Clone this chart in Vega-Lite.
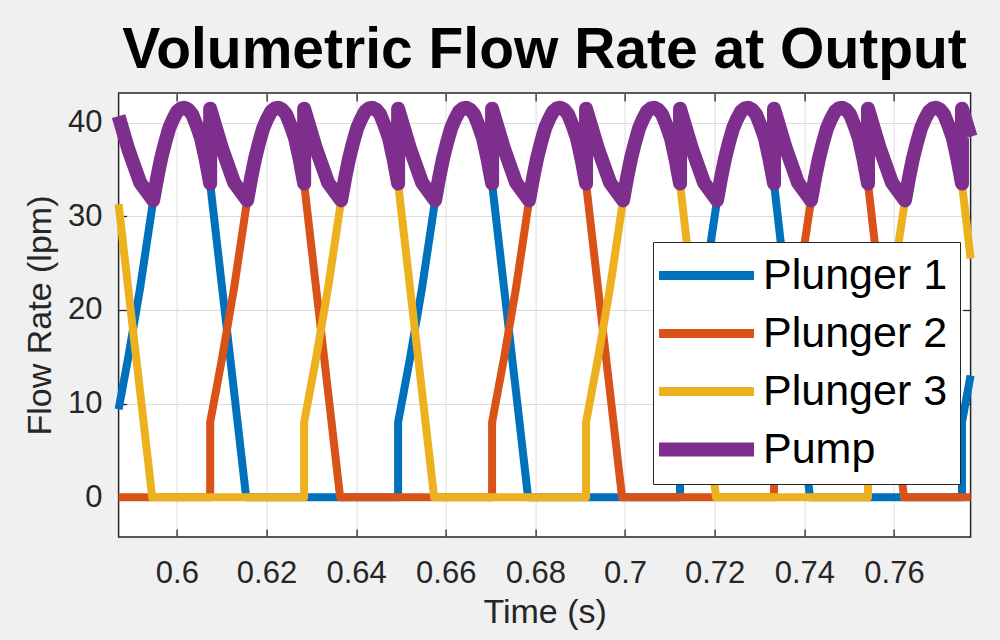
{
  "$schema": "https://vega.github.io/schema/vega-lite/v6.json",
  "width": 852,
  "height": 444,
  "autosize": {"type": "none"},
  "padding": {"left": 118.6, "top": 93, "right": 29.4, "bottom": 103},
  "background": "#f0f0f0",
  "config": {
    "view": {"fill": "white", "stroke": "#262626", "strokeWidth": 1.5},
    "font": "Liberation Sans",
    "legend": {
      "orient": "none",
      "legendX": 534.4,
      "legendY": 149,
      "title": null,
      "fillColor": "white",
      "strokeColor": "#262626",
      "padding": 12,
      "cornerRadius": 0,
      "symbolType": "M-2.75,0H6.75",
      "symbolSize": 400,
      "symbolStrokeWidth": 14,
      "labelFontSize": 43,
      "labelFont": "Liberation Sans",
      "labelColor": "#000000",
      "labelLimit": 500,
      "labelOffset": 55,
      "rowPadding": 14
    }
  },
  "title": {
    "text": "Volumetric Flow Rate at Output",
    "fontSize": 57,
    "fontWeight": "bold",
    "font": "Liberation Sans",
    "color": "#000000",
    "anchor": "middle",
    "frame": "group",
    "baseline": "alphabetic",
    "offset": -33
  },
  "datasets": {
    "plungers": [
      {"t": 0.587, "q": 9.4, "s": "Plunger 1"},
      {"t": 0.589139, "q": 14.9, "s": "Plunger 1"},
      {"t": 0.591816, "q": 22.4, "s": "Plunger 1"},
      {"t": 0.594715, "q": 31.7, "s": "Plunger 1"},
      {"t": 0.5965, "q": 36.2, "s": "Plunger 1"},
      {"t": 0.598284, "q": 39.4, "s": "Plunger 1"},
      {"t": 0.600069, "q": 41.2, "s": "Plunger 1"},
      {"t": 0.60163, "q": 41.6, "s": "Plunger 1"},
      {"t": 0.603415, "q": 40.9, "s": "Plunger 1"},
      {"t": 0.605423, "q": 38.3, "s": "Plunger 1"},
      {"t": 0.60743, "q": 33.5, "s": "Plunger 1"},
      {"t": 0.610107, "q": 22.3, "s": "Plunger 1"},
      {"t": 0.612784, "q": 11.2, "s": "Plunger 1"},
      {"t": 0.61546, "q": 0, "s": "Plunger 1"},
      {"t": 0.649366, "q": 0, "s": "Plunger 1"},
      {"t": 0.649366, "q": 8, "s": "Plunger 1"},
      {"t": 0.652043, "q": 14.9, "s": "Plunger 1"},
      {"t": 0.65472, "q": 22.4, "s": "Plunger 1"},
      {"t": 0.657619, "q": 31.7, "s": "Plunger 1"},
      {"t": 0.659404, "q": 36.2, "s": "Plunger 1"},
      {"t": 0.661188, "q": 39.4, "s": "Plunger 1"},
      {"t": 0.662973, "q": 41.2, "s": "Plunger 1"},
      {"t": 0.664534, "q": 41.6, "s": "Plunger 1"},
      {"t": 0.666319, "q": 40.9, "s": "Plunger 1"},
      {"t": 0.668327, "q": 38.3, "s": "Plunger 1"},
      {"t": 0.670334, "q": 33.5, "s": "Plunger 1"},
      {"t": 0.673011, "q": 22.3, "s": "Plunger 1"},
      {"t": 0.675688, "q": 11.2, "s": "Plunger 1"},
      {"t": 0.678364, "q": 0, "s": "Plunger 1"},
      {"t": 0.71227, "q": 0, "s": "Plunger 1"},
      {"t": 0.71227, "q": 8, "s": "Plunger 1"},
      {"t": 0.714947, "q": 14.9, "s": "Plunger 1"},
      {"t": 0.717624, "q": 22.4, "s": "Plunger 1"},
      {"t": 0.720523, "q": 31.7, "s": "Plunger 1"},
      {"t": 0.722308, "q": 36.2, "s": "Plunger 1"},
      {"t": 0.724092, "q": 39.4, "s": "Plunger 1"},
      {"t": 0.725877, "q": 41.2, "s": "Plunger 1"},
      {"t": 0.727438, "q": 41.6, "s": "Plunger 1"},
      {"t": 0.729223, "q": 40.9, "s": "Plunger 1"},
      {"t": 0.731231, "q": 38.3, "s": "Plunger 1"},
      {"t": 0.733238, "q": 33.5, "s": "Plunger 1"},
      {"t": 0.735915, "q": 22.3, "s": "Plunger 1"},
      {"t": 0.738592, "q": 11.2, "s": "Plunger 1"},
      {"t": 0.741268, "q": 0, "s": "Plunger 1"},
      {"t": 0.775174, "q": 0, "s": "Plunger 1"},
      {"t": 0.775174, "q": 8, "s": "Plunger 1"},
      {"t": 0.7771, "q": 13.0, "s": "Plunger 1"},

      {"t": 0.587, "q": 0, "s": "Plunger 2"},
      {"t": 0.60743, "q": 0, "s": "Plunger 2"},
      {"t": 0.60743, "q": 8, "s": "Plunger 2"},
      {"t": 0.610107, "q": 14.9, "s": "Plunger 2"},
      {"t": 0.612784, "q": 22.4, "s": "Plunger 2"},
      {"t": 0.615683, "q": 31.7, "s": "Plunger 2"},
      {"t": 0.617468, "q": 36.2, "s": "Plunger 2"},
      {"t": 0.619252, "q": 39.4, "s": "Plunger 2"},
      {"t": 0.621037, "q": 41.2, "s": "Plunger 2"},
      {"t": 0.622598, "q": 41.6, "s": "Plunger 2"},
      {"t": 0.624383, "q": 40.9, "s": "Plunger 2"},
      {"t": 0.626391, "q": 38.3, "s": "Plunger 2"},
      {"t": 0.628398, "q": 33.5, "s": "Plunger 2"},
      {"t": 0.631075, "q": 22.3, "s": "Plunger 2"},
      {"t": 0.633752, "q": 11.2, "s": "Plunger 2"},
      {"t": 0.636428, "q": 0, "s": "Plunger 2"},
      {"t": 0.670334, "q": 0, "s": "Plunger 2"},
      {"t": 0.670334, "q": 8, "s": "Plunger 2"},
      {"t": 0.673011, "q": 14.9, "s": "Plunger 2"},
      {"t": 0.675688, "q": 22.4, "s": "Plunger 2"},
      {"t": 0.678587, "q": 31.7, "s": "Plunger 2"},
      {"t": 0.680372, "q": 36.2, "s": "Plunger 2"},
      {"t": 0.682156, "q": 39.4, "s": "Plunger 2"},
      {"t": 0.683941, "q": 41.2, "s": "Plunger 2"},
      {"t": 0.685502, "q": 41.6, "s": "Plunger 2"},
      {"t": 0.687287, "q": 40.9, "s": "Plunger 2"},
      {"t": 0.689295, "q": 38.3, "s": "Plunger 2"},
      {"t": 0.691302, "q": 33.5, "s": "Plunger 2"},
      {"t": 0.693979, "q": 22.3, "s": "Plunger 2"},
      {"t": 0.696656, "q": 11.2, "s": "Plunger 2"},
      {"t": 0.699332, "q": 0, "s": "Plunger 2"},
      {"t": 0.733238, "q": 0, "s": "Plunger 2"},
      {"t": 0.733238, "q": 8, "s": "Plunger 2"},
      {"t": 0.735915, "q": 14.9, "s": "Plunger 2"},
      {"t": 0.738592, "q": 22.4, "s": "Plunger 2"},
      {"t": 0.741491, "q": 31.7, "s": "Plunger 2"},
      {"t": 0.743276, "q": 36.2, "s": "Plunger 2"},
      {"t": 0.74506, "q": 39.4, "s": "Plunger 2"},
      {"t": 0.746845, "q": 41.2, "s": "Plunger 2"},
      {"t": 0.748406, "q": 41.6, "s": "Plunger 2"},
      {"t": 0.750191, "q": 40.9, "s": "Plunger 2"},
      {"t": 0.752199, "q": 38.3, "s": "Plunger 2"},
      {"t": 0.754206, "q": 33.5, "s": "Plunger 2"},
      {"t": 0.756883, "q": 22.3, "s": "Plunger 2"},
      {"t": 0.75956, "q": 11.2, "s": "Plunger 2"},
      {"t": 0.762236, "q": 0, "s": "Plunger 2"},
      {"t": 0.7771, "q": 0, "s": "Plunger 2"},

      {"t": 0.587, "q": 31.3, "s": "Plunger 3"},
      {"t": 0.589139, "q": 22.3, "s": "Plunger 3"},
      {"t": 0.591816, "q": 11.2, "s": "Plunger 3"},
      {"t": 0.594492, "q": 0, "s": "Plunger 3"},
      {"t": 0.628398, "q": 0, "s": "Plunger 3"},
      {"t": 0.628398, "q": 8, "s": "Plunger 3"},
      {"t": 0.631075, "q": 14.9, "s": "Plunger 3"},
      {"t": 0.633752, "q": 22.4, "s": "Plunger 3"},
      {"t": 0.636651, "q": 31.7, "s": "Plunger 3"},
      {"t": 0.638436, "q": 36.2, "s": "Plunger 3"},
      {"t": 0.64022, "q": 39.4, "s": "Plunger 3"},
      {"t": 0.642005, "q": 41.2, "s": "Plunger 3"},
      {"t": 0.643566, "q": 41.6, "s": "Plunger 3"},
      {"t": 0.645351, "q": 40.9, "s": "Plunger 3"},
      {"t": 0.647359, "q": 38.3, "s": "Plunger 3"},
      {"t": 0.649366, "q": 33.5, "s": "Plunger 3"},
      {"t": 0.652043, "q": 22.3, "s": "Plunger 3"},
      {"t": 0.65472, "q": 11.2, "s": "Plunger 3"},
      {"t": 0.657396, "q": 0, "s": "Plunger 3"},
      {"t": 0.691302, "q": 0, "s": "Plunger 3"},
      {"t": 0.691302, "q": 8, "s": "Plunger 3"},
      {"t": 0.693979, "q": 14.9, "s": "Plunger 3"},
      {"t": 0.696656, "q": 22.4, "s": "Plunger 3"},
      {"t": 0.699555, "q": 31.7, "s": "Plunger 3"},
      {"t": 0.70134, "q": 36.2, "s": "Plunger 3"},
      {"t": 0.703124, "q": 39.4, "s": "Plunger 3"},
      {"t": 0.704909, "q": 41.2, "s": "Plunger 3"},
      {"t": 0.70647, "q": 41.6, "s": "Plunger 3"},
      {"t": 0.708255, "q": 40.9, "s": "Plunger 3"},
      {"t": 0.710263, "q": 38.3, "s": "Plunger 3"},
      {"t": 0.71227, "q": 33.5, "s": "Plunger 3"},
      {"t": 0.714947, "q": 22.3, "s": "Plunger 3"},
      {"t": 0.717624, "q": 11.2, "s": "Plunger 3"},
      {"t": 0.7203, "q": 0, "s": "Plunger 3"},
      {"t": 0.754206, "q": 0, "s": "Plunger 3"},
      {"t": 0.754206, "q": 8, "s": "Plunger 3"},
      {"t": 0.756883, "q": 14.9, "s": "Plunger 3"},
      {"t": 0.75956, "q": 22.4, "s": "Plunger 3"},
      {"t": 0.762459, "q": 31.7, "s": "Plunger 3"},
      {"t": 0.764244, "q": 36.2, "s": "Plunger 3"},
      {"t": 0.766028, "q": 39.4, "s": "Plunger 3"},
      {"t": 0.767813, "q": 41.2, "s": "Plunger 3"},
      {"t": 0.769374, "q": 41.6, "s": "Plunger 3"},
      {"t": 0.771159, "q": 40.9, "s": "Plunger 3"},
      {"t": 0.773167, "q": 38.3, "s": "Plunger 3"},
      {"t": 0.775174, "q": 33.5, "s": "Plunger 3"},
      {"t": 0.7771, "q": 25.5, "s": "Plunger 3"}
    ],
    "pump": [
      {"t": 0.587, "q": 40.7, "s": "Pump"},
      {"t": 0.589139, "q": 37.2, "s": "Pump"},
      {"t": 0.591816, "q": 33.6, "s": "Pump"},
      {"t": 0.594715, "q": 31.7, "s": "Pump"},
      {"t": 0.595608, "q": 34.1, "s": "Pump"},
      {"t": 0.5965, "q": 36.2, "s": "Pump"},
      {"t": 0.597392, "q": 37.9, "s": "Pump"},
      {"t": 0.598284, "q": 39.4, "s": "Pump"},
      {"t": 0.599177, "q": 40.4, "s": "Pump"},
      {"t": 0.600069, "q": 41.2, "s": "Pump"},
      {"t": 0.60085, "q": 41.5, "s": "Pump"},
      {"t": 0.60163, "q": 41.6, "s": "Pump"},
      {"t": 0.602523, "q": 41.4, "s": "Pump"},
      {"t": 0.603415, "q": 40.9, "s": "Pump"},
      {"t": 0.604419, "q": 39.7, "s": "Pump"},
      {"t": 0.605423, "q": 38.3, "s": "Pump"},
      {"t": 0.606426, "q": 36.1, "s": "Pump"},
      {"t": 0.60743, "q": 33.5, "s": "Pump"},
      {"t": 0.60743, "q": 41.5, "s": "Pump"},
      {"t": 0.610107, "q": 37.2, "s": "Pump"},
      {"t": 0.612784, "q": 33.6, "s": "Pump"},
      {"t": 0.615683, "q": 31.7, "s": "Pump"},
      {"t": 0.616576, "q": 34.1, "s": "Pump"},
      {"t": 0.617468, "q": 36.2, "s": "Pump"},
      {"t": 0.61836, "q": 37.9, "s": "Pump"},
      {"t": 0.619252, "q": 39.4, "s": "Pump"},
      {"t": 0.620145, "q": 40.4, "s": "Pump"},
      {"t": 0.621037, "q": 41.2, "s": "Pump"},
      {"t": 0.621818, "q": 41.5, "s": "Pump"},
      {"t": 0.622598, "q": 41.6, "s": "Pump"},
      {"t": 0.623491, "q": 41.4, "s": "Pump"},
      {"t": 0.624383, "q": 40.9, "s": "Pump"},
      {"t": 0.625387, "q": 39.7, "s": "Pump"},
      {"t": 0.626391, "q": 38.3, "s": "Pump"},
      {"t": 0.627394, "q": 36.1, "s": "Pump"},
      {"t": 0.628398, "q": 33.5, "s": "Pump"},
      {"t": 0.628398, "q": 41.5, "s": "Pump"},
      {"t": 0.631075, "q": 37.2, "s": "Pump"},
      {"t": 0.633752, "q": 33.6, "s": "Pump"},
      {"t": 0.636651, "q": 31.7, "s": "Pump"},
      {"t": 0.637544, "q": 34.1, "s": "Pump"},
      {"t": 0.638436, "q": 36.2, "s": "Pump"},
      {"t": 0.639328, "q": 37.9, "s": "Pump"},
      {"t": 0.64022, "q": 39.4, "s": "Pump"},
      {"t": 0.641113, "q": 40.4, "s": "Pump"},
      {"t": 0.642005, "q": 41.2, "s": "Pump"},
      {"t": 0.642786, "q": 41.5, "s": "Pump"},
      {"t": 0.643566, "q": 41.6, "s": "Pump"},
      {"t": 0.644459, "q": 41.4, "s": "Pump"},
      {"t": 0.645351, "q": 40.9, "s": "Pump"},
      {"t": 0.646355, "q": 39.7, "s": "Pump"},
      {"t": 0.647359, "q": 38.3, "s": "Pump"},
      {"t": 0.648362, "q": 36.1, "s": "Pump"},
      {"t": 0.649366, "q": 33.5, "s": "Pump"},
      {"t": 0.649366, "q": 41.5, "s": "Pump"},
      {"t": 0.652043, "q": 37.2, "s": "Pump"},
      {"t": 0.65472, "q": 33.6, "s": "Pump"},
      {"t": 0.657619, "q": 31.7, "s": "Pump"},
      {"t": 0.658512, "q": 34.1, "s": "Pump"},
      {"t": 0.659404, "q": 36.2, "s": "Pump"},
      {"t": 0.660296, "q": 37.9, "s": "Pump"},
      {"t": 0.661188, "q": 39.4, "s": "Pump"},
      {"t": 0.662081, "q": 40.4, "s": "Pump"},
      {"t": 0.662973, "q": 41.2, "s": "Pump"},
      {"t": 0.663754, "q": 41.5, "s": "Pump"},
      {"t": 0.664534, "q": 41.6, "s": "Pump"},
      {"t": 0.665427, "q": 41.4, "s": "Pump"},
      {"t": 0.666319, "q": 40.9, "s": "Pump"},
      {"t": 0.667323, "q": 39.7, "s": "Pump"},
      {"t": 0.668327, "q": 38.3, "s": "Pump"},
      {"t": 0.66933, "q": 36.1, "s": "Pump"},
      {"t": 0.670334, "q": 33.5, "s": "Pump"},
      {"t": 0.670334, "q": 41.5, "s": "Pump"},
      {"t": 0.673011, "q": 37.2, "s": "Pump"},
      {"t": 0.675688, "q": 33.6, "s": "Pump"},
      {"t": 0.678587, "q": 31.7, "s": "Pump"},
      {"t": 0.67948, "q": 34.1, "s": "Pump"},
      {"t": 0.680372, "q": 36.2, "s": "Pump"},
      {"t": 0.681264, "q": 37.9, "s": "Pump"},
      {"t": 0.682156, "q": 39.4, "s": "Pump"},
      {"t": 0.683049, "q": 40.4, "s": "Pump"},
      {"t": 0.683941, "q": 41.2, "s": "Pump"},
      {"t": 0.684722, "q": 41.5, "s": "Pump"},
      {"t": 0.685502, "q": 41.6, "s": "Pump"},
      {"t": 0.686395, "q": 41.4, "s": "Pump"},
      {"t": 0.687287, "q": 40.9, "s": "Pump"},
      {"t": 0.688291, "q": 39.7, "s": "Pump"},
      {"t": 0.689295, "q": 38.3, "s": "Pump"},
      {"t": 0.690298, "q": 36.1, "s": "Pump"},
      {"t": 0.691302, "q": 33.5, "s": "Pump"},
      {"t": 0.691302, "q": 41.5, "s": "Pump"},
      {"t": 0.693979, "q": 37.2, "s": "Pump"},
      {"t": 0.696656, "q": 33.6, "s": "Pump"},
      {"t": 0.699555, "q": 31.7, "s": "Pump"},
      {"t": 0.700448, "q": 34.1, "s": "Pump"},
      {"t": 0.70134, "q": 36.2, "s": "Pump"},
      {"t": 0.702232, "q": 37.9, "s": "Pump"},
      {"t": 0.703124, "q": 39.4, "s": "Pump"},
      {"t": 0.704017, "q": 40.4, "s": "Pump"},
      {"t": 0.704909, "q": 41.2, "s": "Pump"},
      {"t": 0.70569, "q": 41.5, "s": "Pump"},
      {"t": 0.70647, "q": 41.6, "s": "Pump"},
      {"t": 0.707363, "q": 41.4, "s": "Pump"},
      {"t": 0.708255, "q": 40.9, "s": "Pump"},
      {"t": 0.709259, "q": 39.7, "s": "Pump"},
      {"t": 0.710263, "q": 38.3, "s": "Pump"},
      {"t": 0.711266, "q": 36.1, "s": "Pump"},
      {"t": 0.71227, "q": 33.5, "s": "Pump"},
      {"t": 0.71227, "q": 41.5, "s": "Pump"},
      {"t": 0.714947, "q": 37.2, "s": "Pump"},
      {"t": 0.717624, "q": 33.6, "s": "Pump"},
      {"t": 0.720523, "q": 31.7, "s": "Pump"},
      {"t": 0.721416, "q": 34.1, "s": "Pump"},
      {"t": 0.722308, "q": 36.2, "s": "Pump"},
      {"t": 0.7232, "q": 37.9, "s": "Pump"},
      {"t": 0.724092, "q": 39.4, "s": "Pump"},
      {"t": 0.724985, "q": 40.4, "s": "Pump"},
      {"t": 0.725877, "q": 41.2, "s": "Pump"},
      {"t": 0.726658, "q": 41.5, "s": "Pump"},
      {"t": 0.727438, "q": 41.6, "s": "Pump"},
      {"t": 0.728331, "q": 41.4, "s": "Pump"},
      {"t": 0.729223, "q": 40.9, "s": "Pump"},
      {"t": 0.730227, "q": 39.7, "s": "Pump"},
      {"t": 0.731231, "q": 38.3, "s": "Pump"},
      {"t": 0.732234, "q": 36.1, "s": "Pump"},
      {"t": 0.733238, "q": 33.5, "s": "Pump"},
      {"t": 0.733238, "q": 41.5, "s": "Pump"},
      {"t": 0.735915, "q": 37.2, "s": "Pump"},
      {"t": 0.738592, "q": 33.6, "s": "Pump"},
      {"t": 0.741491, "q": 31.7, "s": "Pump"},
      {"t": 0.742384, "q": 34.1, "s": "Pump"},
      {"t": 0.743276, "q": 36.2, "s": "Pump"},
      {"t": 0.744168, "q": 37.9, "s": "Pump"},
      {"t": 0.74506, "q": 39.4, "s": "Pump"},
      {"t": 0.745953, "q": 40.4, "s": "Pump"},
      {"t": 0.746845, "q": 41.2, "s": "Pump"},
      {"t": 0.747626, "q": 41.5, "s": "Pump"},
      {"t": 0.748406, "q": 41.6, "s": "Pump"},
      {"t": 0.749299, "q": 41.4, "s": "Pump"},
      {"t": 0.750191, "q": 40.9, "s": "Pump"},
      {"t": 0.751195, "q": 39.7, "s": "Pump"},
      {"t": 0.752199, "q": 38.3, "s": "Pump"},
      {"t": 0.753202, "q": 36.1, "s": "Pump"},
      {"t": 0.754206, "q": 33.5, "s": "Pump"},
      {"t": 0.754206, "q": 41.5, "s": "Pump"},
      {"t": 0.756883, "q": 37.2, "s": "Pump"},
      {"t": 0.75956, "q": 33.6, "s": "Pump"},
      {"t": 0.762459, "q": 31.7, "s": "Pump"},
      {"t": 0.763352, "q": 34.1, "s": "Pump"},
      {"t": 0.764244, "q": 36.2, "s": "Pump"},
      {"t": 0.765136, "q": 37.9, "s": "Pump"},
      {"t": 0.766028, "q": 39.4, "s": "Pump"},
      {"t": 0.766921, "q": 40.4, "s": "Pump"},
      {"t": 0.767813, "q": 41.2, "s": "Pump"},
      {"t": 0.768594, "q": 41.5, "s": "Pump"},
      {"t": 0.769374, "q": 41.6, "s": "Pump"},
      {"t": 0.770267, "q": 41.4, "s": "Pump"},
      {"t": 0.771159, "q": 40.9, "s": "Pump"},
      {"t": 0.772163, "q": 39.7, "s": "Pump"},
      {"t": 0.773167, "q": 38.3, "s": "Pump"},
      {"t": 0.77417, "q": 36.1, "s": "Pump"},
      {"t": 0.775174, "q": 33.5, "s": "Pump"},
      {"t": 0.775174, "q": 41.5, "s": "Pump"},
      {"t": 0.7771, "q": 38.5, "s": "Pump"}
    ]
  },
  "layer": [
    {
      "data": {"name": "plungers"},
      "mark": {"type": "line", "strokeWidth": 8, "strokeJoin": "round", "strokeCap": "butt"},
      "encoding": {
        "x": {
          "field": "t", "type": "quantitative",
          "scale": {"domain": [0.587, 0.7771], "nice": false, "zero": false},
          "axis": {
            "orient": "bottom",
            "values": [0.6, 0.62, 0.64, 0.66, 0.68, 0.7, 0.72, 0.74, 0.76],
            "format": ".2~f",
            "grid": true, "gridColor": "#dcdcdc", "gridWidth": 1,
            "ticks": true, "tickSize": -8, "tickColor": "#262626", "tickWidth": 1.3,
            "domain": false,
            "labelFontSize": 31, "labelFont": "Liberation Sans", "labelColor": "#262626",
            "labelPadding": 29, "labelFlush": false,
            "title": "Time (s)", "titleFontSize": 34, "titleFont": "Liberation Sans",
            "titleFontWeight": "normal", "titleColor": "#262626",
            "titleBaseline": "alphabetic", "titleX": 426, "titleY": 85
          }
        },
        "y": {
          "field": "q", "type": "quantitative",
          "scale": {"domain": [-4.25, 43.17], "nice": false, "zero": false},
          "axis": {
            "orient": "left",
            "values": [0, 10, 20, 30, 40],
            "grid": true, "gridColor": "#dcdcdc", "gridWidth": 1,
            "ticks": true, "tickSize": -8, "tickColor": "#262626", "tickWidth": 1.3,
            "domain": false,
            "labelFontSize": 31, "labelFont": "Liberation Sans", "labelColor": "#262626",
            "labelPadding": 24.6,
            "title": "Flow Rate (lpm)", "titleFontSize": 34, "titleFont": "Liberation Sans",
            "titleFontWeight": "normal", "titleColor": "#262626",
            "titleBaseline": "alphabetic", "titleX": -68, "titleY": 222
          }
        },
        "color": {
          "field": "s", "type": "nominal",
          "scale": {"domain": ["Plunger 1", "Plunger 2", "Plunger 3", "Pump"], "range": ["#0072BD", "#D95319", "#EDB120", "#7E2F8E"]},
          "legend": {
            "title": null,
            "encode": {"symbols": {"update": {
              "strokeWidth": {"signal": "datum.value === 'Pump' ? 14 : 9"},
              "strokeJoin": {"value": "round"},
              "strokeCap": {"value": "butt"}
            }}}
          }
        },
        "order": {"value": null}
      }
    },
    {
      "data": {"name": "pump"},
      "mark": {"type": "line", "strokeWidth": 14, "strokeJoin": "round", "strokeCap": "butt"},
      "encoding": {
        "x": {
          "field": "t", "type": "quantitative",
          "axis": {
            "orient": "top",
            "values": [0.6, 0.62, 0.64, 0.66, 0.68, 0.7, 0.72, 0.74, 0.76],
            "grid": false, "labels": false, "domain": false, "title": null,
            "ticks": true, "tickSize": -8, "tickColor": "#262626", "tickWidth": 1.3
          }
        },
        "y": {
          "field": "q", "type": "quantitative",
          "axis": {
            "orient": "right",
            "values": [0, 10, 20, 30, 40],
            "grid": false, "labels": false, "domain": false, "title": null,
            "ticks": true, "tickSize": -8, "tickColor": "#262626", "tickWidth": 1.3
          }
        },
        "color": {"field": "s", "type": "nominal"},
        "order": {"value": null}
      }
    }
  ],
  "resolve": {"axis": {"x": "independent", "y": "independent"}}
}
